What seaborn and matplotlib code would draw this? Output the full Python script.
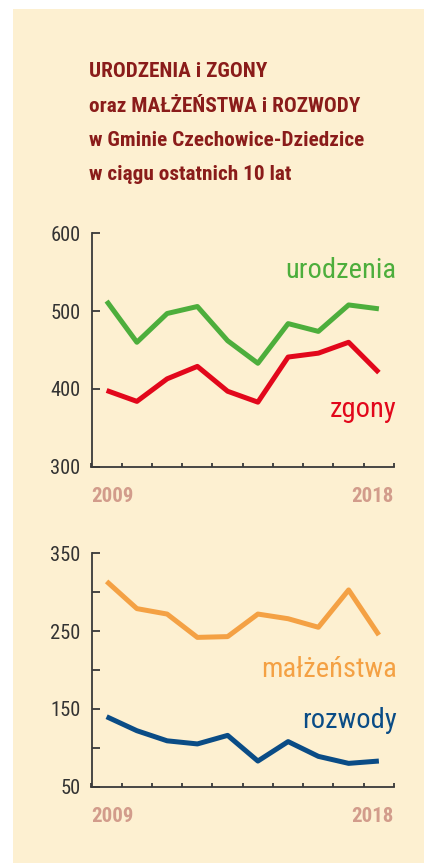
import matplotlib
matplotlib.use("Agg")
import matplotlib.pyplot as plt
from matplotlib import font_manager
from matplotlib.patches import Rectangle
import seaborn as sns
import pandas as pd
import numpy as np

# --- data ---
years = [2009, 2010, 2011, 2012, 2013, 2014, 2015, 2016, 2017, 2018]
urodzenia = [513, 460, 497, 506, 462, 433, 484, 474, 508, 503]
zgony = [398, 384, 413, 429, 397, 383, 441, 446, 460, 421]
malzenstwa = [314, 279, 272, 242, 243, 272, 266, 255, 303, 245]
rozwody = [140, 122, 109, 105, 116, 83, 108, 89, 80, 83]

top_yticks = [300, 400, 500, 600]
bottom_yticks = [50, 100, 150, 200, 250, 300, 350]
bottom_ylabels = ["50", "", "150", "", "250", "", "350"]

title_lines = [
    "URODZENIA i ZGONY",
    "oraz MAŁŻEŃSTWA i ROZWODY",
    "w Gminie Czechowice-Dziedzice",
    "w ciągu ostatnich 10 lat",
]

# colours
BG = "#FDF0D1"
TITLE_RED = "#8A1C1A"
AXIS_GRAY = "#3a3a3a"
YEAR_COL = "#D29C8B"
GREEN = "#4DAE3C"
RED = "#E2071B"
ORANGE = "#F4A144"
BLUE = "#0A4C86"


def pick_font(candidates):
    for name in candidates:
        try:
            font_manager.findfont(font_manager.FontProperties(family=name),
                                  fallback_to_default=False)
            return name
        except Exception:
            continue
    return "DejaVu Sans"


narrow = pick_font(["Roboto Condensed", "Liberation Sans Narrow", "Roboto"])
regular = pick_font(["Roboto", "DejaVu Sans"])

sns.set_theme(style="ticks")
plt.rcParams["font.family"] = [narrow, "DejaVu Sans"]

fig = plt.figure(figsize=(4.24, 8.63), dpi=100)
fig.patch.set_facecolor("white")
# cream card
fig.add_artist(Rectangle((13 / 424, 0), 1 - 13 / 424, 1 - 9 / 863,
                         transform=fig.transFigure, facecolor=BG,
                         edgecolor="none", zorder=0))

# title block
baselines = [76.7, 111.5, 146.0, 180.5]
for line, base in zip(title_lines, baselines):
    fig.text(89 / 424, 1 - base / 863, line, fontsize=15.3,
             fontweight="bold", color=TITLE_RED, ha="left", va="baseline")

left = 91.5 / 424
width = 302.5 / 424
height = 233.3 / 863
ax_top = fig.add_axes([left, 1 - 466.7 / 863, width, height])
ax_bot = fig.add_axes([left, 1 - 786.7 / 863, width, height])

df = pd.DataFrame({"year": years, "urodzenia": urodzenia, "zgony": zgony,
                   "malzenstwa": malzenstwa, "rozwody": rozwody})


def style_axes(ax, ylim, yticks, ylabels):
    ax.set_facecolor("none")
    ax.set_xlim(years[0] - 0.5, years[-1] + 0.5)
    ax.set_ylim(*ylim)
    ax.set_xticks(np.arange(years[0] - 0.5, years[-1] + 1.0, 1.0))
    ax.set_xticklabels([])
    ax.set_yticks(yticks)
    ax.set_yticklabels(ylabels)
    for side in ["top", "right"]:
        ax.spines[side].set_visible(False)
    for side in ["left", "bottom"]:
        ax.spines[side].set_color(AXIS_GRAY)
        ax.spines[side].set_linewidth(1.3)
    ax.tick_params(axis="y", direction="in", length=5.5, width=1.3,
                   color=AXIS_GRAY, labelcolor="#333333", labelsize=14.8, pad=8)
    ax.tick_params(axis="x", direction="in", length=3, width=1.3,
                   color=AXIS_GRAY)
    ax.set_xlabel("")
    ax.set_ylabel("")
    ax.text(0, -0.152, str(years[0]), transform=ax.transAxes, ha="left",
            va="baseline", fontsize=15, fontweight="bold", color=YEAR_COL)
    ax.text(1, -0.152, str(years[-1]), transform=ax.transAxes, ha="right",
            va="baseline", fontsize=15, fontweight="bold", color=YEAR_COL)


for col, color in [("urodzenia", GREEN), ("zgony", RED)]:
    sns.lineplot(data=df, x="year", y=col, ax=ax_top, color=color,
                 linewidth=3.6, solid_capstyle="butt", clip_on=False)
for col, color in [("malzenstwa", ORANGE), ("rozwody", BLUE)]:
    sns.lineplot(data=df, x="year", y=col, ax=ax_bot, color=color,
                 linewidth=3.6, solid_capstyle="butt", clip_on=False)

style_axes(ax_top, (300, 600), top_yticks, [str(t) for t in top_yticks])
style_axes(ax_bot, (50, 350), bottom_yticks, bottom_ylabels)

series_labels = [
    (ax_top, 0.8075, "urodzenia", GREEN),
    (ax_top, 0.214, "zgony", RED),
    (ax_bot, 0.469, "małżeństwa", ORANGE),
    (ax_bot, 0.250, "rozwody", BLUE),
]
for ax, ypos, text, color in series_labels:
    ax.text(1.008, ypos, text, color=color, transform=ax.transAxes,
            ha="right", va="baseline", fontsize=20.5)

fig.savefig("out.png", dpi=100, facecolor=fig.get_facecolor())
